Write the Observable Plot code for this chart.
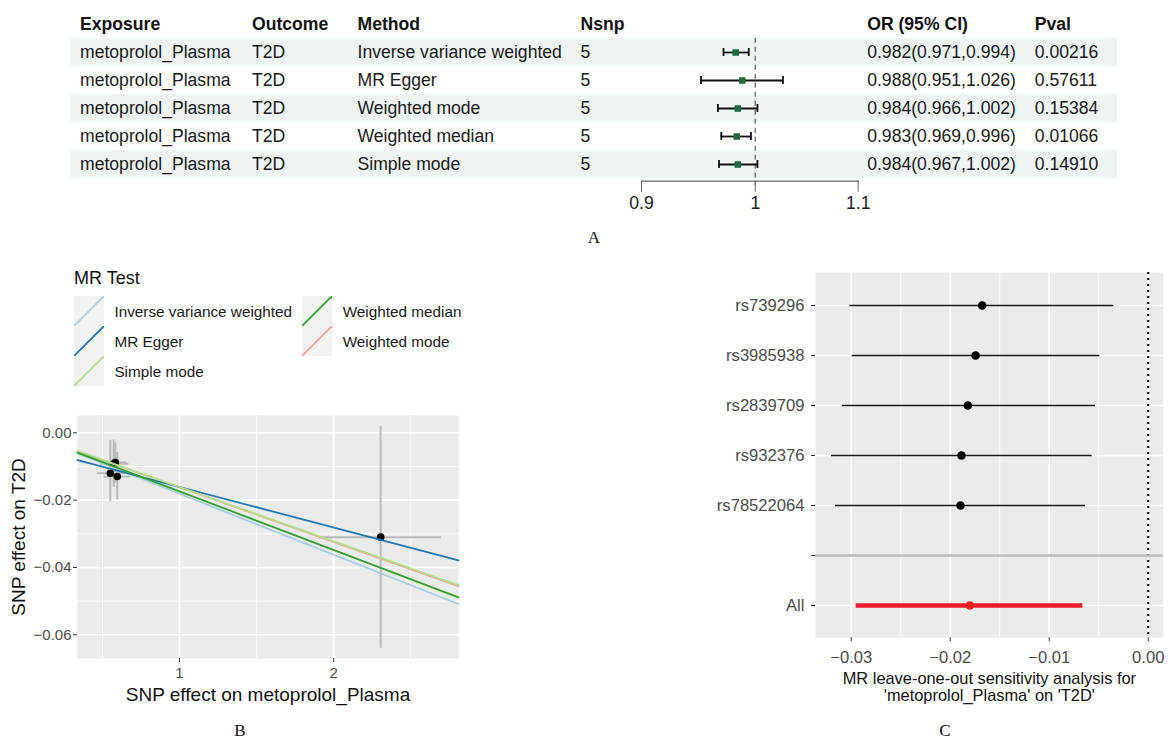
<!DOCTYPE html>
<html><head><meta charset="utf-8">
<script src="https://cdn.jsdelivr.net/npm/d3@7"></script>
<script src="https://cdn.jsdelivr.net/npm/@observablehq/plot@0.6"></script>
<style>
body{margin:0;background:#fff;}
#root{position:relative;width:1170px;height:739px;overflow:hidden;font-family:"Liberation Sans",Arial,sans-serif;}
.cap{position:absolute;font-family:"Liberation Serif","Times New Roman",serif;font-size:17px;color:#111;transform:translate(-50%,-50%);}
.lg{position:absolute;font-size:15.3px;color:#1a1a1a;transform:translateY(-50%);white-space:nowrap;}
</style></head>
<body><div id="root"></div>
<script>
// ---------- Panel A data ----------
const methodsA = ["Inverse variance weighted","MR Egger","Weighted mode","Weighted median","Simple mode"];
const exposureA = "metoprolol_Plasma";
const outcomeA = "T2D";
const nsnpA = [5,5,5,5,5];
const orA = [0.982,0.988,0.984,0.983,0.984];
const orLoA = [0.971,0.951,0.966,0.969,0.967];
const orHiA = [0.994,1.026,1.002,0.996,1.002];
const pvalA = ["0.00216","0.57611","0.15384","0.01066","0.14910"];
const headersA = ["Exposure","Outcome","Method","Nsnp","OR (95% CI)","Pval"];
const orTicksA = [0.9,1,1.1];

// ---------- Panel B data ----------
const snpBx   = [0.573, 0.551, 0.596, 2.305, 0.583];
const snpBy   = [-0.0092, -0.0120, -0.0130, -0.0310, -0.0088];
const snpBxLo = [0.487, 0.466, 0.510, 1.905, 0.500];
const snpBxHi = [0.671, 0.649, 0.682, 2.700, 0.660];
const snpByLo = [-0.0162, -0.0205, -0.0199, -0.0640, -0.0150];
const snpByHi = [-0.0021, -0.0023, -0.0058, 0.0019, -0.0030];
const mrMethodsB = ["Inverse variance weighted","MR Egger","Simple mode","Weighted median","Weighted mode"];
const mrColorsB  = ["#a6cee3","#1f78b4","#b2df8a","#33a02c","#fb9a99"];
const mrSlopesB  = [-0.0181, -0.01207, -0.0161, -0.0174, -0.0162];
const mrInterceptsB = [0, -0.0040, 0, 0, 0];
const drawOrderB = ["Weighted mode","Inverse variance weighted","MR Egger","Simple mode","Weighted median"];
const xTicksB = [1,2];
const yTicksB = [0,-0.02,-0.04,-0.06];

// ---------- Panel C data ----------
const looSnpC = ["rs739296","rs3985938","rs2839709","rs932376","rs78522064","All"];
const looBC   = [-0.01677,-0.01744,-0.01822,-0.01886,-0.01896,-0.01802];
const looLoC  = [-0.03014,-0.02990,-0.03090,-0.03200,-0.03160,-0.02950];
const looHiC  = [-0.00347,-0.00489,-0.00532,-0.00566,-0.00633,-0.00660];
const xTicksC = [-0.03,-0.02,-0.01,0];

const FONT = "Liberation Sans, Arial, sans-serif";
const root = document.getElementById("root");
function place(el, left, top){ el.style.position="absolute"; el.style.left=left+"px"; el.style.top=top+"px"; root.appendChild(el); return el; }
function caption(t, x, y){ const c=document.createElement("div"); c.className="cap"; c.textContent=t; c.style.left=x+"px"; c.style.top=y+"px"; root.appendChild(c); }

// ================= Panel A =================
const rowsA = methodsA.map((m,i)=>({
  method:m, exposure:exposureA, outcome:outcomeA, nsnp:nsnpA[i],
  or:orA[i], lo:orLoA[i], hi:orHiA[i],
  orText:`${orA[i].toFixed(3)}(${orLoA[i].toFixed(3)},${orHiA[i].toFixed(3)})`,
  p:pvalA[i], shade: i%2===0
}));
const yDomA = ["hdr", ...methodsA];
const colDx = [9.5, 181.5, 287, 510, 796.7, 964.3];
const colAcc = [d=>d.exposure, d=>d.outcome, d=>d.method, d=>d.nsnp, d=>d.orText, d=>d.p];
const tableMarks = [Plot.cell(rowsA.filter(d=>d.shade), {y:"method", fill:"#eef3f3"})];
headersA.forEach((h,c)=>{
  tableMarks.push(Plot.text([h], {y:()=>"hdr", text:d=>d, frameAnchor:"left", textAnchor:"start", dx:colDx[c], fontWeight:"bold", fill:"#111"}));
  tableMarks.push(Plot.text(rowsA, {y:"method", text:colAcc[c], frameAnchor:"left", textAnchor:"start", dx:colDx[c], fill:"#1a1a1a"}));
});
const tableA = Plot.plot({
  width:1170, height:180, marginLeft:70, marginRight:53, marginTop:9.3, marginBottom:1.5,
  y:{domain:yDomA, padding:0, axis:null},
  style:{fontFamily:FONT, fontSize:"17.6px", background:"transparent"},
  marks: tableMarks
});
place(tableA, 0, 0);

const forestA = Plot.plot({
  width:248, height:215, marginLeft:15, marginRight:16.3, marginTop:9.3, marginBottom:34.3,
  x:{type:"log", domain:[0.9,1.1]},
  y:{domain:yDomA, range:[9.3,178.5], padding:0, axis:null},
  style:{fontFamily:FONT, fontSize:"17.6px", background:"transparent", overflow:"visible"},
  marks:[
    Plot.ruleX([1], {stroke:"#7a7a7a", strokeWidth:1.5, strokeDasharray:"5,4", insetTop:28.5, insetBottom:-4.3}),
    Plot.ruleY(rowsA, {y:"method", x1:"lo", x2:"hi", stroke:"#111", strokeWidth:1.8}),
    Plot.tickX(rowsA, {x:"lo", y:"method", stroke:"#111", strokeWidth:1.8, insetTop:10, insetBottom:10}),
    Plot.tickX(rowsA, {x:"hi", y:"method", stroke:"#111", strokeWidth:1.8, insetTop:10, insetBottom:10}),
    Plot.dot(rowsA, {x:"or", y:"method", symbol:"square", r:3.7, fill:"#1d6b3d", stroke:"none"}),
    Plot.frame({anchor:"bottom", stroke:"#666", strokeWidth:1.2}),
    Plot.axisX({ticks:orTicksA, tickFormat:d=>String(d), tickSize:11, tickPadding:4.5, stroke:"#666", fill:"#222", label:null})
  ]
});
place(forestA, 626, 0);
caption("A", 594, 238);

// ================= Panel B =================
const snpRowsB = snpBx.map((x,i)=>({x, y:snpBy[i], xlo:snpBxLo[i], xhi:snpBxHi[i], ylo:snpByLo[i], yhi:snpByHi[i]}));
const xDomB = [0.338, 2.81];
const lineRowsB = [];
drawOrderB.forEach(m=>{
  const k = mrMethodsB.indexOf(m);
  xDomB.forEach(x=> lineRowsB.push({method:m, x, y: mrInterceptsB[k] + mrSlopesB[k]*x}));
});
const plotB = Plot.plot({
  width:470, height:310, marginLeft:77, marginRight:12, marginTop:15, marginBottom:52,
  x:{domain:xDomB},
  y:{domain:[-0.06704, 0.00514]},
  color:{domain:mrMethodsB, range:mrColorsB},
  style:{fontFamily:FONT, fontSize:"15px", background:"transparent", overflow:"visible"},
  marks:[
    Plot.frame({fill:"#ebebeb", stroke:"none"}),
    Plot.gridX([0.5,1.5,2.5], {stroke:"white", strokeOpacity:1, strokeWidth:0.8}),
    Plot.gridY([-0.01,-0.03,-0.05], {stroke:"white", strokeOpacity:1, strokeWidth:0.8}),
    Plot.gridX(xTicksB, {stroke:"white", strokeOpacity:1, strokeWidth:1.6}),
    Plot.gridY(yTicksB, {stroke:"white", strokeOpacity:1, strokeWidth:1.6}),
    Plot.ruleX(snpRowsB, {x:"x", y1:"ylo", y2:"yhi", stroke:"#bababa", strokeWidth:2}),
    Plot.ruleY(snpRowsB, {y:"y", x1:"xlo", x2:"xhi", stroke:"#bababa", strokeWidth:2}),
    Plot.dot(snpRowsB, {x:"x", y:"y", r:3.8, fill:"black", stroke:"none"}),
    Plot.line(lineRowsB, {x:"x", y:"y", z:"method", stroke:"method", strokeWidth:1.8}),
    Plot.axisX({ticks:xTicksB, tickFormat:d=>String(d), tickSize:4, tickPadding:5, stroke:"#333", fill:"#4d4d4d", label:null}),
    Plot.axisY({ticks:yTicksB, tickFormat:d3.format(".2f"), tickSize:4, tickPadding:2, stroke:"#333", fill:"#4d4d4d", label:null}),
    Plot.text(["SNP effect on metoprolol_Plasma"], {frameAnchor:"bottom", lineAnchor:"middle", textAnchor:"middle", dy:36, fontSize:19, fill:"#111", text:d=>d}),
    Plot.text(["SNP effect on T2D"], {frameAnchor:"left", lineAnchor:"middle", textAnchor:"middle", dx:-58.7, rotate:-90, fontSize:19, fill:"#111", text:d=>d})
  ]
});
place(plotB, 0, 400);

// Legend B
const lgTitle = document.createElement("div"); lgTitle.textContent="MR Test";
lgTitle.style.cssText="position:absolute;left:74px;top:278px;font-size:18px;color:#111;transform:translateY(-50%);";
root.appendChild(lgTitle);
const legendPos = [[74,296],[74,326],[74,356],[302.3,296],[302.3,326]];
mrMethodsB.forEach((m,i)=>{
  const [lx,ly] = legendPos[i];
  const svg = d3.create("svg").attr("width",30).attr("height",30);
  svg.append("rect").attr("width",30).attr("height",30).attr("fill","#f2f2f2");
  svg.append("line").attr("x1",0).attr("y1",30).attr("x2",30).attr("y2",0).attr("stroke",mrColorsB[i]).attr("stroke-width",1.8);
  place(svg.node(), lx, ly);
  const t = document.createElement("div"); t.className="lg"; t.textContent=m;
  root.appendChild(t); t.style.left=(lx+40.4)+"px"; t.style.top=(ly+15.5)+"px";
});
caption("B", 240, 731);

// ================= Panel C =================
const looRowsC = looSnpC.map((s,i)=>({snp:s, b:looBC[i], lo:looLoC[i], hi:looHiC[i]}));
const yDomC = [...looSnpC.slice(0,5), "gap", "All"];
const plotC = Plot.plot({
  width:480, height:450, marginLeft:125, marginRight:7.3, marginTop:12, marginBottom:72.7,
  x:{domain:[-0.03361, 0.001515]},
  y:{type:"point", domain:yDomC, range:[43,347.3], padding:0},
  style:{fontFamily:FONT, fontSize:"16.6px", background:"transparent"},
  marks:[
    Plot.frame({fill:"#ebebeb", stroke:"none"}),
    Plot.gridX([-0.025,-0.015,-0.005], {stroke:"white", strokeOpacity:1, strokeWidth:0.8}),
    Plot.gridX(xTicksC, {stroke:"white", strokeOpacity:1, strokeWidth:1.6}),
    Plot.gridY(yDomC, {stroke:"white", strokeOpacity:1, strokeWidth:1.6}),
    Plot.ruleX([0], {stroke:"black", strokeWidth:2, strokeDasharray:"2,4"}),
    Plot.ruleY(["gap"], {stroke:"#bdbdbd", strokeWidth:2.4}),
    Plot.ruleY(looRowsC.filter(d=>d.snp!=="All"), {y:"snp", x1:"lo", x2:"hi", stroke:"#1a1a1a", strokeWidth:1.6}),
    Plot.dot(looRowsC.filter(d=>d.snp!=="All"), {x:"b", y:"snp", r:4.3, fill:"black", stroke:"none"}),
    Plot.ruleY(looRowsC.filter(d=>d.snp==="All"), {y:"snp", x1:"lo", x2:"hi", stroke:"#ee1d25", strokeWidth:4.6}),
    Plot.dot(looRowsC.filter(d=>d.snp==="All"), {x:"b", y:"snp", r:4.3, fill:"#ee1d25", stroke:"none"}),
    Plot.axisX({ticks:xTicksC, tickFormat:d3.format(".2f"), tickSize:4, tickPadding:9.5, stroke:"#333", fill:"#4d4d4d", label:null}),
    Plot.axisY({tickFormat:d=>d==="gap"?"":d, tickSize:4, tickPadding:7, stroke:"#333", fill:"#4d4d4d", label:null}),
    Plot.text(["MR leave-one-out sensitivity analysis for\n'metoprolol_Plasma' on 'T2D'"], {frameAnchor:"bottom", lineAnchor:"middle", textAnchor:"middle", dy:49, lineHeight:1.08, fontSize:16.4, fill:"#111", text:d=>d})
  ]
});
place(plotC, 690, 260);
caption("C", 945, 731);
</script>
</body></html>
